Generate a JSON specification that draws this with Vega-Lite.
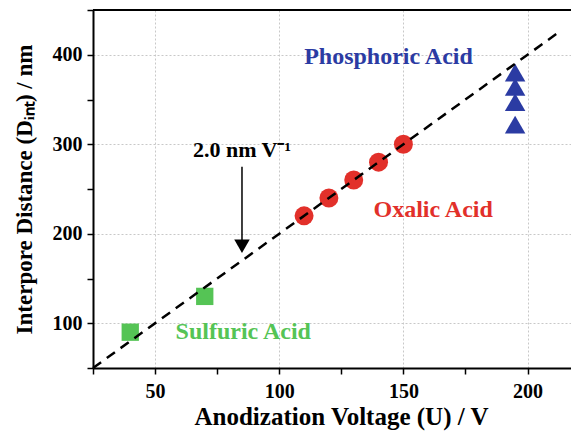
{
  "$schema": "https://vega.github.io/schema/vega-lite/v6.json",
  "width": 478,
  "height": 358,
  "autosize": "none",
  "padding": {"left": 93, "top": 10, "right": 0, "bottom": 64},
  "background": "white",
  "config": {
    "view": {"stroke": null},
    "axis": {
      "domainColor": "black",
      "domainWidth": 2,
      "tickColor": "black",
      "tickWidth": 1.5,
      "tickSize": 6,
      "labelFont": "Liberation Serif",
      "labelFontWeight": "bold",
      "labelFontSize": 20,
      "labelColor": "black",
      "titleFont": "Liberation Serif",
      "titleFontWeight": "bold",
      "titleFontSize": 23,
      "titleColor": "black",
      "gridColor": "#c8c8c8",
      "gridDash": [2, 2],
      "gridWidth": 1
    }
  },
  "datasets": {
    "pts": [
      {"U": 40, "D": 90, "acid": "Sulfuric"},
      {"U": 70, "D": 130, "acid": "Sulfuric"},
      {"U": 110, "D": 220, "acid": "Oxalic"},
      {"U": 120, "D": 240, "acid": "Oxalic"},
      {"U": 130, "D": 260, "acid": "Oxalic"},
      {"U": 140, "D": 280, "acid": "Oxalic"},
      {"U": 150, "D": 300, "acid": "Oxalic"},
      {"U": 195, "D": 322, "acid": "Phosphoric"},
      {"U": 195, "D": 347, "acid": "Phosphoric"},
      {"U": 195, "D": 364, "acid": "Phosphoric"},
      {"U": 195, "D": 380, "acid": "Phosphoric"}
    ],
    "fit": [
      {"U": 25, "D": 50},
      {"U": 213, "D": 426}
    ],
    "border": [
      {"D": 450}
    ],
    "arrow": [
      {"U": 85, "D": 275, "D2": 186}
    ],
    "head": [
      {"U": 85, "D": 186}
    ],
    "labels": [
      {"U": 85.5, "D": 90, "t": "Sulfuric Acid", "acid": "Sulfuric"},
      {"U": 162, "D": 227, "t": "Oxalic Acid", "acid": "Oxalic"},
      {"U": 144, "D": 398, "t": "Phosphoric Acid", "acid": "Phosphoric"}
    ],
    "note": [
      {"U": 85, "D": 294, "t": "2.0 nm V⁻¹"}
    ]
  },
  "layer": [
    {
      "data": {"name": "pts"},
      "mark": {"type": "point", "filled": true, "opacity": 1, "clip": false},
      "encoding": {
        "x": {
          "field": "U", "type": "quantitative",
          "scale": {"domain": [25, 217.5], "nice": false, "zero": false},
          "axis": {
            "title": "Anodization Voltage (U) / V",
            "titleFontSize": 25,
            "values": [25, 50, 75, 100, 125, 150, 175, 200],
            "labelExpr": "datum.value % 50 == 0 ? datum.label : ''",
            "gridOpacity": {"condition": {"test": "datum.value % 50 == 0", "value": 1}, "value": 0},
            "labelPadding": 7,
            "titlePadding": 3,
            "titleX": 248
          }
        },
        "y": {
          "field": "D", "type": "quantitative",
          "scale": {"domain": [50, 450], "nice": false, "zero": false},
          "axis": {
            "title": "Interpore Distance (Dᵢₙₜ) / nm",
            "values": [50, 100, 150, 200, 250, 300, 350, 400, 450],
            "labelExpr": "datum.value % 100 == 0 ? datum.label : ''",
            "gridOpacity": {"condition": {"test": "datum.value % 100 == 0", "value": 1}, "value": 0},
            "labelPadding": 5,
            "titlePadding": 16
          }
        },
        "color": {
          "field": "acid", "type": "nominal",
          "scale": {"domain": ["Sulfuric", "Oxalic", "Phosphoric"], "range": ["#55c455", "#e2302a", "#2b3ba3"]},
          "legend": null
        },
        "shape": {
          "field": "acid", "type": "nominal",
          "scale": {"domain": ["Sulfuric", "Oxalic", "Phosphoric"], "range": ["square", "circle", "triangle-up"]},
          "legend": null
        },
        "size": {
          "field": "acid", "type": "nominal",
          "scale": {"domain": ["Sulfuric", "Oxalic", "Phosphoric"], "range": [300, 420, 500]},
          "legend": null
        }
      }
    },
    {
      "data": {"name": "border"},
      "mark": {"type": "rule", "color": "black", "strokeWidth": 2},
      "encoding": {
        "y": {"field": "D", "type": "quantitative"}
      }
    },
    {
      "data": {"name": "fit"},
      "mark": {"type": "line", "color": "black", "strokeWidth": 2.5, "strokeDash": [10, 7]},
      "encoding": {
        "x": {"field": "U", "type": "quantitative"},
        "y": {"field": "D", "type": "quantitative"}
      }
    },
    {
      "data": {"name": "arrow"},
      "mark": {"type": "rule", "color": "black", "strokeWidth": 1.5},
      "encoding": {
        "x": {"field": "U", "type": "quantitative"},
        "y": {"field": "D", "type": "quantitative"},
        "y2": {"field": "D2"}
      }
    },
    {
      "data": {"name": "head"},
      "mark": {"type": "point", "shape": "triangle-down", "filled": true, "color": "black", "opacity": 1, "size": 240},
      "encoding": {
        "x": {"field": "U", "type": "quantitative"},
        "y": {"field": "D", "type": "quantitative"}
      }
    },
    {
      "data": {"name": "labels"},
      "mark": {"type": "text", "font": "Liberation Serif", "fontWeight": "bold", "fontSize": 24, "align": "center", "baseline": "middle"},
      "encoding": {
        "x": {"field": "U", "type": "quantitative"},
        "y": {"field": "D", "type": "quantitative"},
        "text": {"field": "t"},
        "color": {"field": "acid", "type": "nominal", "legend": null}
      }
    },
    {
      "data": {"name": "note"},
      "mark": {"type": "text", "font": "Liberation Serif", "fontWeight": "bold", "fontSize": 22, "align": "center", "baseline": "middle", "color": "black"},
      "encoding": {
        "x": {"field": "U", "type": "quantitative"},
        "y": {"field": "D", "type": "quantitative"},
        "text": {"field": "t"}
      }
    }
  ]
}
